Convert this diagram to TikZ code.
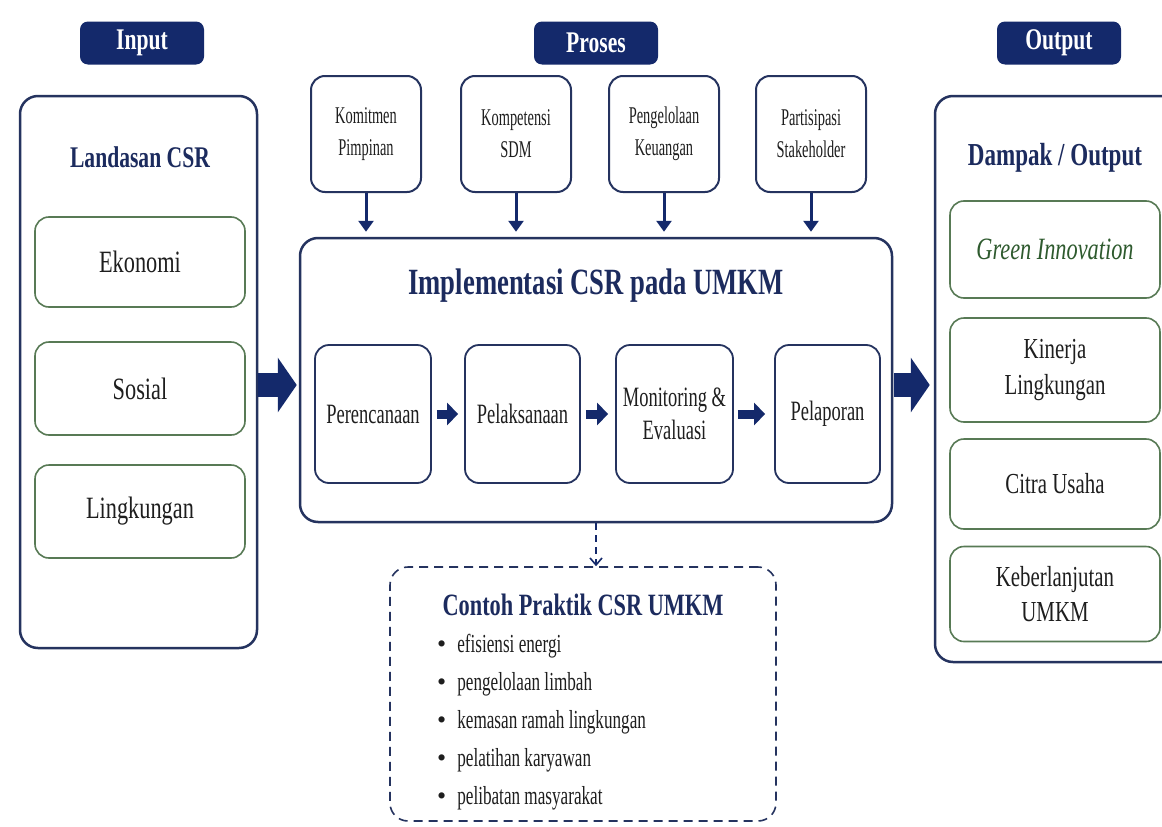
\documentclass[tikz,border=0pt]{standalone}
\usepackage{fontspec}
\setmainfont{Liberation Serif}[FakeStretch=0.72]
\newfontfamily\plainserif{Liberation Serif}
\newfontfamily\narrowserif{Liberation Serif}[FakeStretch=0.6]
\newfontfamily\midserif{Liberation Serif}[FakeStretch=0.66]
\usetikzlibrary{arrows.meta}
\definecolor{navy}{HTML}{14296B}
\definecolor{navyline}{HTML}{25335F}
\definecolor{titleblue}{HTML}{1C2B5E}
\definecolor{gline}{HTML}{587A55}
\definecolor{gtext}{HTML}{2E5A2E}
\definecolor{txt}{HTML}{1E1E1E}
\newcommand{\myfs}[2]{\fontsize{#1}{#2}\selectfont}
\newcommand{\bul}{{\plainserif\textbullet}\hspace{11pt}}
\begin{document}
\begin{tikzpicture}[x=1pt,y=-1pt,
  lbl/.style={fill=navy, rounded corners=8pt, text=white, font=\myfs{30}{34}\bfseries, minimum width=124pt, minimum height=43pt, inner sep=0pt},
  bigbox/.style={draw=navyline, line width=2.5pt, rounded corners=18pt, inner sep=0pt, fill=white},
  gbox/.style={draw=gline, line width=1.6pt, rounded corners=14pt, minimum width=210pt, inner sep=0pt, text=txt, align=center},
  topbox/.style={draw=navyline, line width=2pt, rounded corners=14pt, minimum width=110pt, minimum height=116pt, inner sep=0pt, text=txt, align=center, font=\narrowserif\myfs{24}{32}},
  stepbox/.style={draw=navyline, line width=1.8pt, rounded corners=14pt, minimum height=138pt, inner sep=0pt, text=txt, align=center, font=\midserif\myfs{28}{33}},
  ttl/.style={text=titleblue, font=\bfseries, inner sep=0pt},
  item/.style={anchor=base west, text=txt, font=\midserif\myfs{26}{28}, inner sep=0pt},
  blockarrow/.style={draw=navy, line width=24pt, -{Triangle[length=19pt,width=54pt]}},
  smallarrow/.style={draw=navy, line width=9pt, -{Triangle[length=11pt,width=22pt]}},
  downarrow/.style={draw=navy, line width=3pt, -{Triangle[length=11pt,width=15pt]}, shorten >=5pt},
]
\useasboundingbox (0,0) rectangle (1162,827);
\clip (0,0) rectangle (1162,827);
\fill[white] (0,0) rectangle (1162,827);

% header labels
\node[lbl] (inp) at (142,43) {Input};
\node[lbl] (pro) at (596,43) {Proses};
\node[lbl] (outl) at (1059,43) {Output};

% left column
\node[bigbox, minimum width=237pt, minimum height=552pt] (left) at (138.5,372) {};
\node[ttl, font=\myfs{30}{34}\bfseries] (ltitle) at (140,157) {Landasan CSR};
\node[gbox, minimum height=90pt, font=\myfs{31}{36}] (eko) at (140,262) {Ekonomi};
\node[gbox, minimum height=93pt, font=\myfs{31}{36}] (sos) at (140,388.5) {Sosial};
\node[gbox, minimum height=93pt, font=\myfs{31}{36}] (lin) at (140,511.5) {Lingkungan};

% top factors
\node[topbox] (kom) at (366,134) {Komitmen\\Pimpinan};
\node[topbox] (kps) at (516,134) {Kompetensi\\SDM};
\node[topbox] (keu) at (664,134) {Pengelolaan\\Keuangan};
\node[topbox] (par) at (811,134) {Partisipasi\\Stakeholder};

% main box
\node[bigbox, minimum width=592pt, minimum height=284pt] (main) at (596,380) {};
\node[ttl, font=\myfs{37}{42}\bfseries] (mtitle) at (596,286) {Implementasi CSR pada UMKM};
\node[stepbox, minimum width=116pt] (s1) at (373,414) {Perencanaan};
\node[stepbox, minimum width=115pt] (s2) at (522.5,414) {Pelaksanaan};
\node[stepbox, minimum width=117pt] (s3) at (674.5,414) {Monitoring \&\\Evaluasi};
\node[stepbox, minimum width=105pt] (s4) at (827.5,414) {Pelaporan};

% right column
\node[bigbox, minimum width=245pt, minimum height=566pt] (right) at (1057.5,379) {};
\node[ttl, font=\myfs{32}{36}\bfseries] (rtitle) at (1055,158) {Dampak / Output};
\node[gbox, minimum height=97pt, font=\myfs{31}{36}\itshape, text=gtext] (gi) at (1055,249.5) {Green Innovation};
\node[gbox, minimum height=104pt, font=\myfs{29}{36}] (kin) at (1055,370) {Kinerja\\Lingkungan};
\node[gbox, minimum height=90pt, font=\myfs{29}{36}] (cit) at (1055,484) {Citra Usaha};
\node[gbox, minimum height=95pt, font=\myfs{29}{35}] (keb) at (1055,594) {Keberlanjutan\\UMKM};

% example box
\node[draw=navyline, line width=1.6pt, dash pattern=on 9pt off 6pt, rounded corners=18pt, minimum width=386pt, minimum height=254pt, inner sep=0pt] (ex) at (583,694) {};
\node[ttl, font=\myfs{31}{36}\bfseries] (extitle) at (583,605) {Contoh Praktik CSR UMKM};
\node[item] (i1) at (437,652) {\bul efisiensi energi};
\node[item] (i2) at (437,690) {\bul pengelolaan limbah};
\node[item] (i3) at (437,728) {\bul kemasan ramah lingkungan};
\node[item] (i4) at (437,766) {\bul pelatihan karyawan};
\node[item] (i5) at (437,804) {\bul pelibatan masyarakat};

% connectors
\coordinate (ay) at (0,385);
\draw[blockarrow] (left.east |- ay) -- ([xshift=-2pt]main.west |- ay);
\draw[blockarrow, shorten <=1pt, shorten >=4pt] (main.east |- ay) -- (right.west |- ay);

\draw[downarrow] (kom.south) -- (kom.south |- main.north);
\draw[downarrow] (kps.south) -- (kps.south |- main.north);
\draw[downarrow] (keu.south) -- (keu.south |- main.north);
\draw[downarrow] (par.south) -- (par.south |- main.north);

\draw[smallarrow, shorten <=5pt, shorten >=6pt] (s1.east) -- (s2.west);
\draw[smallarrow, shorten <=5pt, shorten >=7pt] (s2.east) -- (s3.west);
\draw[smallarrow, shorten <=4pt, shorten >=9pt] (s3.east) -- (s4.west);

\draw[navy, line width=1.6pt, dash pattern=on 7pt off 5pt, -{Straight Barb[length=7pt,width=12pt]}] (main.south) -- (main.south |- ex.north);
\end{tikzpicture}
\end{document}
